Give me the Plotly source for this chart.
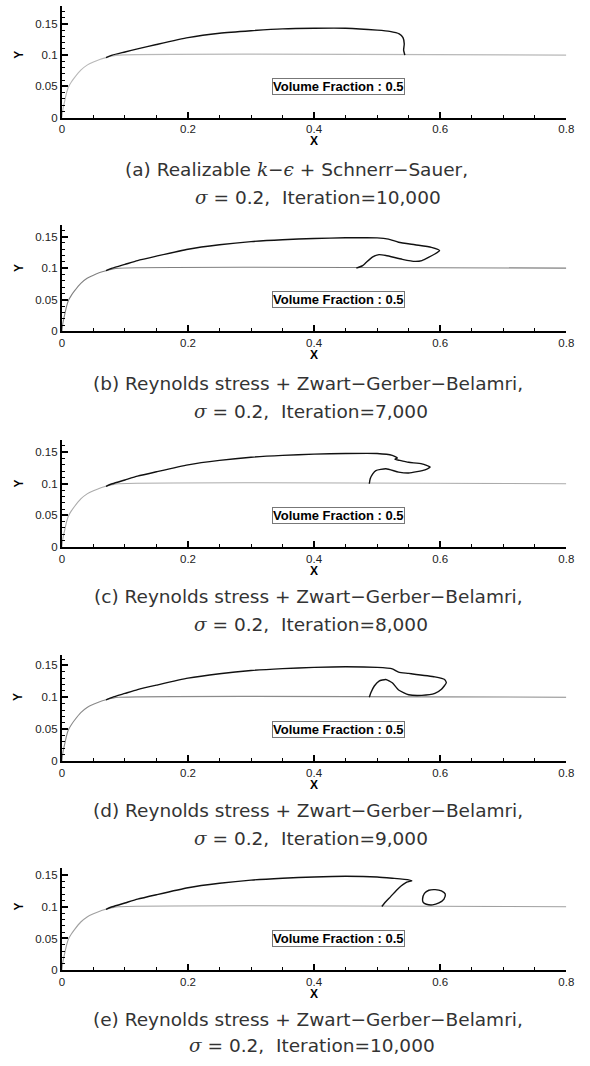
import plotly.graph_objects as go

W, H = 590, 1066

# ---------------- data ----------------
x_tick_vals = [0, 0.2, 0.4, 0.6, 0.8]
x_tick_labels = ["0", "0.2", "0.4", "0.6", "0.8"]
y_tick_vals = [0, 0.05, 0.1, 0.15]
y_tick_labels = ["0", "0.05", "0.1", "0.15"]

# wall / body profile (gray line)
body_x = [0.0, 0.0016, 0.005, 0.0075, 0.0104, 0.015, 0.02, 0.03, 0.04, 0.05, 0.06, 0.07, 0.08, 0.09, 0.8]
body_y = [0.0, 0.013, 0.029, 0.04, 0.049, 0.057, 0.064, 0.076, 0.084, 0.089, 0.093, 0.096, 0.0985, 0.1, 0.1]

# cavity outline (volume fraction 0.5 contour)
cav_a_x = [0.07, 0.08, 0.1, 0.12, 0.15, 0.2, 0.25, 0.3, 0.35, 0.4, 0.45, 0.5, 0.52, 0.535, 0.541, 0.543, 0.542, 0.544]
cav_a_y = [0.096, 0.1, 0.105, 0.11, 0.117, 0.128, 0.135, 0.139, 0.142, 0.143, 0.143, 0.14, 0.138, 0.134, 0.128, 0.118, 0.108, 0.1]

cav_b_x = [0.07, 0.08, 0.1, 0.12, 0.15, 0.2, 0.25, 0.3, 0.35, 0.4, 0.45, 0.5, 0.518, 0.534, 0.56, 0.586, 0.599,
           0.5915, 0.571, 0.56, 0.54, 0.514, 0.503, 0.493, 0.4825, 0.477, 0.467]
cav_b_y = [0.096, 0.1, 0.106, 0.112, 0.119, 0.13, 0.137, 0.142, 0.145, 0.147, 0.148, 0.148, 0.146, 0.141, 0.137, 0.133, 0.128,
           0.1224, 0.112, 0.1107, 0.114, 0.12, 0.1214, 0.118, 0.109, 0.104, 0.1]

cav_c_x = [0.07, 0.08, 0.1, 0.12, 0.15, 0.2, 0.25, 0.3, 0.35, 0.4, 0.45, 0.5, 0.524, 0.532, 0.528, 0.536, 0.55, 0.571, 0.584,
           0.576, 0.55, 0.534, 0.514, 0.498, 0.493, 0.489, 0.4876]
cav_c_y = [0.096, 0.1, 0.106, 0.112, 0.119, 0.13, 0.137, 0.142, 0.145, 0.147, 0.148, 0.148, 0.145, 0.141, 0.139, 0.137, 0.134, 0.1316, 0.1264,
           0.122, 0.117, 0.1185, 0.1237, 0.121, 0.1158, 0.108, 0.1]

cav_d_x = [0.07, 0.08, 0.1, 0.12, 0.15, 0.2, 0.25, 0.3, 0.35, 0.4, 0.45, 0.5, 0.524, 0.534, 0.55, 0.5915, 0.607, 0.6097,
           0.602, 0.5915, 0.5707, 0.55, 0.534, 0.524, 0.5136, 0.503, 0.4955, 0.49, 0.4876]
cav_d_y = [0.096, 0.1, 0.106, 0.112, 0.119, 0.13, 0.137, 0.142, 0.145, 0.147, 0.148, 0.147, 0.1447, 0.1395, 0.1375, 0.132, 0.128, 0.1228,
           0.1125, 0.106, 0.103, 0.104, 0.1114, 0.1228, 0.128, 0.1255, 0.1177, 0.107, 0.1]

cav_e_x = [0.07, 0.08, 0.1, 0.12, 0.15, 0.2, 0.25, 0.3, 0.35, 0.4, 0.45, 0.5, 0.524, 0.55, 0.555,
           0.547, 0.534, 0.5214, 0.5136, 0.5074]
cav_e_y = [0.096, 0.1, 0.106, 0.112, 0.119, 0.13, 0.137, 0.142, 0.145, 0.147, 0.148, 0.147, 0.145, 0.1424, 0.1408,
           0.1388, 0.1293, 0.116, 0.108, 0.1005]

bubble_e_x = [0.572, 0.575, 0.582, 0.592, 0.602, 0.608, 0.606, 0.598, 0.588, 0.578, 0.573, 0.572]
bubble_e_y = [0.112, 0.121, 0.126, 0.127, 0.125, 0.120, 0.112, 0.106, 0.103, 0.104, 0.107, 0.112]

caption_line1 = [
    "(a) Realizable <span style='font-family:DejaVu Serif'><i>k</i>−<i>ϵ</i></span> + Schnerr−Sauer,",
    "(b) Reynolds stress + Zwart−Gerber−Belamri,",
    "(c) Reynolds stress + Zwart−Gerber−Belamri,",
    "(d) Reynolds stress + Zwart−Gerber−Belamri,",
    "(e) Reynolds stress + Zwart−Gerber−Belamri,",
]
sigma = "<span style='font-family:DejaVu Serif'><i>σ</i></span>"
caption_line2 = [
    sigma + " = 0.2,  Iteration=10,000",
    sigma + " = 0.2,  Iteration=7,000",
    sigma + " = 0.2,  Iteration=8,000",
    sigma + " = 0.2,  Iteration=9,000",
    sigma + " = 0.2,  Iteration=10,000",
]
contour_label = "Volume Fraction : 0.5"

cavities = [(cav_a_x, cav_a_y), (cav_b_x, cav_b_y), (cav_c_x, cav_c_y), (cav_d_x, cav_d_y), (cav_e_x, cav_e_y)]

# ---------------- layout geometry (pixels) ----------------
# (y of axis zero line, y of axis top, y max value)
panels = [(118.3, 6.0, 0.1786), (333.3, 226.7, 0.1676), (550.0, 442.7, 0.169),
          (765.3, 658.3, 0.167), (975.7, 873.3, 0.1605)]
body_colors = ["#b8b8b8", "#808080", "#ababab", "#8a8a8a", "#a0a0a0"]
cap_pos = [((299, 170), (321, 199)), ((311, 386), (314, 414)), ((311, 600), (314, 628)),
           ((311, 815), (314, 843)), ((311, 1025), (315, 1051))]

X0, X1 = 60, 574


def py(p):
    return 1 - p / H


fig = go.Figure()
annotations = []
tickfont = dict(family="Liberation Sans, Arial", size=11.5, color="#222")

for i, (y0p, ytp, ymax) in enumerate(panels):
    n = i + 1
    xa = "x" if n == 1 else f"x{n}"
    ya = "y" if n == 1 else f"y{n}"
    fig.add_trace(go.Scatter(x=body_x, y=body_y, xaxis=xa, yaxis=ya, mode="lines",
                             line=dict(color=body_colors[i], width=1.1, shape="spline", smoothing=0.8),
                             hoverinfo="skip", showlegend=False))
    cx, cy = cavities[i]
    fig.add_trace(go.Scatter(x=cx, y=cy, xaxis=xa, yaxis=ya, mode="lines",
                             line=dict(color="#111", width=1.4, shape="spline", smoothing=0.5),
                             hoverinfo="skip", showlegend=False))
    if n == 5:
        fig.add_trace(go.Scatter(x=bubble_e_x, y=bubble_e_y, xaxis=xa, yaxis=ya, mode="lines",
                                 line=dict(color="#111", width=1.4, shape="spline", smoothing=1.0),
                                 hoverinfo="skip", showlegend=False))

    fig.update_layout(**{
        ("xaxis" if n == 1 else f"xaxis{n}"): dict(
            domain=[X0 / W, X1 / W], range=[0, 0.8], anchor=ya,
            showline=True, linecolor="black", linewidth=2,
            ticks="inside", ticklen=6, tickwidth=2, tickcolor="black",
            tickvals=x_tick_vals, ticktext=x_tick_labels, tickfont=tickfont,
            minor=dict(tickmode="linear", tick0=0, dtick=0.05, ticks="inside", ticklen=3,
                       tickwidth=1, tickcolor="black", showgrid=False),
            showgrid=False, zeroline=False, fixedrange=True),
        ("yaxis" if n == 1 else f"yaxis{n}"): dict(
            domain=[py(y0p), py(ytp)], range=[0, ymax], anchor=xa,
            showline=True, linecolor="black", linewidth=2,
            ticks="inside", ticklen=6, tickwidth=2, tickcolor="black",
            tickvals=y_tick_vals, ticktext=y_tick_labels, tickfont=tickfont,
            minor=dict(tickmode="linear", tick0=0, dtick=0.01, ticks="inside", ticklen=3,
                       tickwidth=1, tickcolor="black", showgrid=False),
            showgrid=False, zeroline=False, fixedrange=True),
    })

    # contour label box
    annotations.append(dict(x=0.4385, y=0.05, xref=xa, yref=ya, text=f"<b>{contour_label}</b>",
                            showarrow=False, font=dict(family="Liberation Sans, Arial", size=13, color="black"),
                            bgcolor="white", bordercolor="#777", borderwidth=1, borderpad=0,
                            xanchor="center", yanchor="middle"))
    # axis titles
    annotations.append(dict(x=316.5 / W, y=py(y0p + 24), xref="paper", yref="paper", text="<b>X</b>",
                            showarrow=False, font=dict(family="Liberation Sans, Arial", size=12, color="black"),
                            xanchor="center", yanchor="middle"))
    annotations.append(dict(x=16 / W, y=0.1, xref="paper", yref=ya, text="<b>Y</b>", textangle=-90,
                            showarrow=False, font=dict(family="Liberation Sans, Arial", size=12, color="black"),
                            xanchor="center", yanchor="middle"))
    # captions
    (c1x, c1y), (c2x, c2y) = cap_pos[i]
    capfont = dict(family="DejaVu Sans", size=18.5, color="#333")
    annotations.append(dict(x=c1x / W, y=py(c1y), xref="paper", yref="paper", text=caption_line1[i],
                            showarrow=False, font=capfont, xanchor="center", yanchor="middle"))
    annotations.append(dict(x=c2x / W, y=py(c2y), xref="paper", yref="paper", text=caption_line2[i],
                            showarrow=False, font=capfont, xanchor="center", yanchor="middle"))

fig.update_layout(width=W, height=H, margin=dict(l=0, r=0, t=0, b=0),
                  paper_bgcolor="white", plot_bgcolor="white",
                  annotations=annotations, showlegend=False)

fig.write_html("out.html", config={"displayModeBar": False},
               post_script="document.body.style.margin='0';")
